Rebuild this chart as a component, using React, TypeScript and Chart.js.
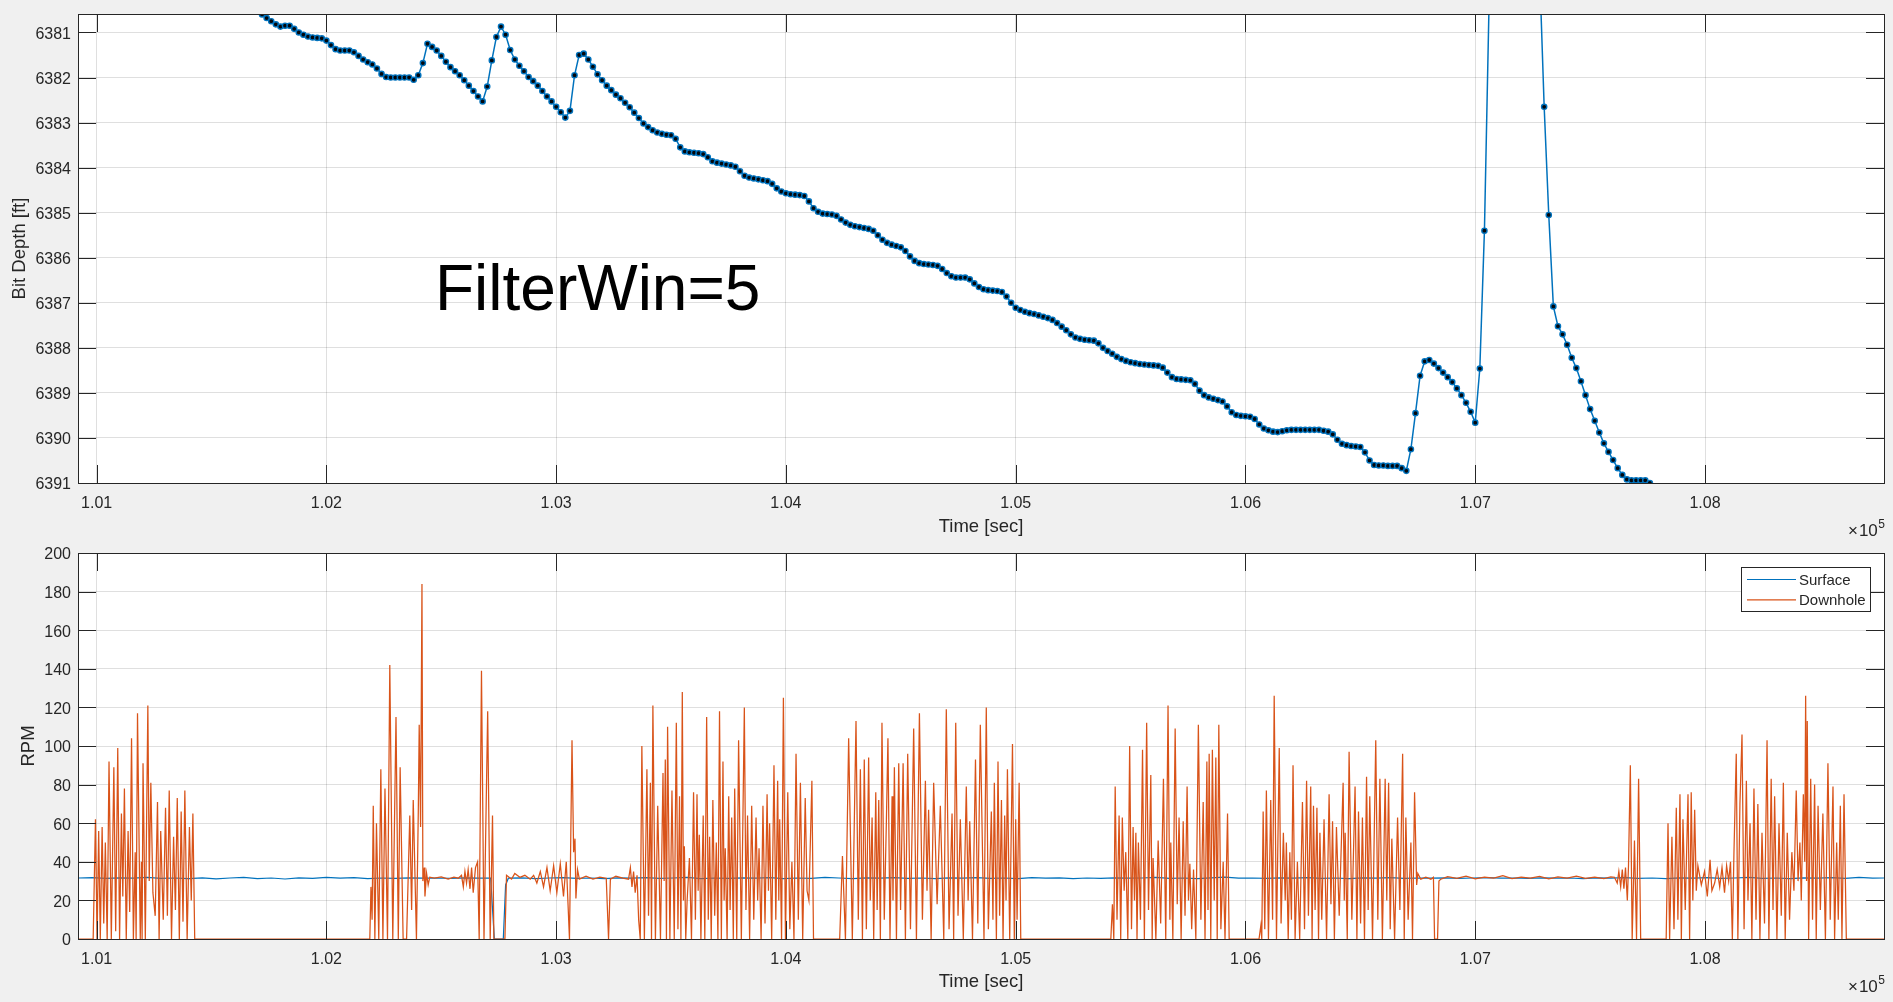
import { useEffect, useRef } from 'react';
import { Chart, registerables } from 'chart.js';

Chart.register(...registerables);

const FONT = "'Liberation Sans', Arial, Helvetica, sans-serif";
const AXIS_COLOR = '#262626';
const GRID_COLOR = 'rgba(38,38,38,0.15)';
const BLUE = '#0072BD';
const ORANGE = '#D95319';

// ---------- shared x axis ----------
const timeMin = 100919;
const timeMax = 108779;
const timeTicks = [101000, 102000, 103000, 104000, 105000, 106000, 107000, 108000];
const timeTickLabels = ['1.01', '1.02', '1.03', '1.04', '1.05', '1.06', '1.07', '1.08'];

// ---------- top plot: bit depth ----------
const depthMin = 6380.59;
const depthMax = 6391;
const depthTicks = [6381, 6382, 6383, 6384, 6385, 6386, 6387, 6388, 6389, 6390, 6391];
const depthStart = 101720; // sec, time of first sample
const depthStep = 20; // sec between samples
const bitDepth = [
  6380.60, 6380.68, 6380.75, 6380.82, 6380.87, 6380.85, 6380.85, 6380.92, 6381.00, 6381.05,
  6381.09, 6381.11, 6381.12, 6381.13, 6381.18, 6381.28, 6381.37, 6381.40, 6381.40, 6381.40,
  6381.44, 6381.52, 6381.60, 6381.66, 6381.71, 6381.80, 6381.92, 6381.99, 6382.00, 6382.00,
  6382.00, 6382.00, 6382.00, 6382.05, 6381.95, 6381.68, 6381.25, 6381.32, 6381.40, 6381.52,
  6381.65, 6381.77, 6381.86, 6381.95, 6382.06, 6382.18, 6382.30, 6382.42, 6382.53, 6382.20,
  6381.62, 6381.10, 6380.87, 6381.05, 6381.39, 6381.60, 6381.74, 6381.86, 6381.99, 6382.08,
  6382.18, 6382.30, 6382.42, 6382.53, 6382.65, 6382.77, 6382.89, 6382.74, 6381.95, 6381.50,
  6381.47, 6381.60, 6381.76, 6381.93, 6382.06, 6382.18, 6382.28, 6382.38, 6382.46, 6382.56,
  6382.66, 6382.78, 6382.90, 6383.02, 6383.10, 6383.17, 6383.22, 6383.25, 6383.27, 6383.28,
  6383.36, 6383.55, 6383.64, 6383.66, 6383.67, 6383.68, 6383.70, 6383.77, 6383.86, 6383.89,
  6383.91, 6383.93, 6383.95, 6383.98, 6384.08, 6384.18, 6384.22, 6384.24, 6384.26, 6384.28,
  6384.30, 6384.36, 6384.46, 6384.53, 6384.57, 6384.59, 6384.60, 6384.61, 6384.63, 6384.75,
  6384.90, 6384.98, 6385.02, 6385.03, 6385.04, 6385.07, 6385.15, 6385.22, 6385.27, 6385.30,
  6385.32, 6385.34, 6385.36, 6385.40, 6385.50, 6385.60, 6385.67, 6385.71, 6385.74, 6385.77,
  6385.85, 6385.97, 6386.07, 6386.12, 6386.14, 6386.15, 6386.16, 6386.18, 6386.25, 6386.34,
  6386.41, 6386.44, 6386.44, 6386.44, 6386.48, 6386.57, 6386.65, 6386.70, 6386.72, 6386.73,
  6386.74, 6386.76, 6386.86, 6387.00, 6387.11, 6387.16, 6387.20, 6387.23, 6387.25, 6387.28,
  6387.31, 6387.34, 6387.38, 6387.45, 6387.53, 6387.61, 6387.70, 6387.77, 6387.80, 6387.82,
  6387.83, 6387.84, 6387.90, 6388.00, 6388.07, 6388.13, 6388.20, 6388.25, 6388.29, 6388.32,
  6388.34, 6388.36, 6388.37, 6388.38, 6388.39, 6388.40, 6388.44, 6388.55, 6388.65, 6388.69,
  6388.70, 6388.71, 6388.72, 6388.80, 6388.95, 6389.05, 6389.10, 6389.13, 6389.16, 6389.19,
  6389.30, 6389.43, 6389.49, 6389.51, 6389.52, 6389.53, 6389.58, 6389.70, 6389.79, 6389.83,
  6389.86, 6389.87, 6389.85, 6389.83, 6389.82, 6389.82, 6389.82, 6389.82, 6389.82, 6389.82,
  6389.82, 6389.84, 6389.86, 6389.92, 6390.04, 6390.13, 6390.16, 6390.18, 6390.19, 6390.20,
  6390.32, 6390.50, 6390.60, 6390.61, 6390.61, 6390.62, 6390.62, 6390.62, 6390.67, 6390.73,
  6390.25, 6389.45, 6388.62, 6388.30, 6388.27, 6388.35, 6388.45, 6388.55, 6388.65, 6388.76,
  6388.90, 6389.05, 6389.22, 6389.42, 6389.66, 6388.46, 6385.40, 6380.40, 6376.00, 6372.00,
  6369.00, 6367.00, 6366.00, 6366.00, 6367.00, 6369.00, 6372.00, 6376.00, 6379.60, 6382.65,
  6385.05, 6387.08, 6387.52, 6387.70, 6387.93, 6388.22, 6388.45, 6388.74, 6389.05, 6389.36,
  6389.62, 6389.88, 6390.12, 6390.31, 6390.49, 6390.67, 6390.82, 6390.92, 6390.94, 6390.94,
  6390.94, 6390.94, 6391.00, 6391.08,
];

// ---------- bottom plot: RPM ----------
const rpmMin = 0;
const rpmMax = 200;
const rpmTicks = [0, 20, 40, 60, 80, 100, 120, 140, 160, 180, 200];

// [time sec, rpm]
const surfaceRpm = [
  [100920, 31.6], [100980, 31.8], [101040, 31.4], [101100, 31.7], [101160, 31.5], [101220, 31.9],
  [101280, 31.4], [101340, 31.6], [101400, 31.3], [101460, 31.7], [101520, 31.2], [101580, 31.6],
  [101640, 31.9], [101700, 31.3], [101760, 31.6], [101820, 31.1], [101880, 31.7], [101940, 31.4],
  [102000, 31.9], [102060, 31.5], [102120, 31.8], [102180, 31.3], [102240, 31.6], [102300, 31.4],
  [102360, 31.7], [102420, 31.5], [102480, 31.6], [102540, 31.4], [102600, 31.7], [102660, 31.5],
  [102715, 31.5], [102731, 0], [102770, 0], [102780, 28], [102792, 31.5], [102850, 31.7],
  [102910, 31.3], [102970, 31.6], [103030, 31.8], [103090, 31.4], [103150, 31.6], [103210, 31.3],
  [103270, 31.7], [103330, 31.5], [103390, 31.8], [103450, 31.4], [103510, 31.6], [103570, 31.9],
  [103630, 31.3], [103690, 31.6], [103750, 31.4], [103810, 31.7], [103870, 31.5], [103930, 31.8],
  [103990, 31.3], [104050, 31.6], [104110, 31.4], [104170, 31.9], [104230, 31.6], [104290, 31.3],
  [104350, 31.7], [104410, 31.5], [104470, 31.8], [104530, 31.4], [104590, 31.6], [104650, 31.3],
  [104710, 31.7], [104770, 31.5], [104830, 31.8], [104890, 31.4], [104950, 31.6], [105010, 31.3],
  [105070, 31.8], [105130, 31.5], [105190, 31.7], [105250, 31.3], [105310, 31.6], [105370, 31.4],
  [105430, 31.7], [105490, 31.5], [105550, 31.6], [105610, 31.9], [105670, 31.4], [105730, 31.6],
  [105790, 31.3], [105850, 31.7], [105910, 32.1], [105970, 31.5], [106030, 31.6], [106090, 31.4],
  [106150, 31.7], [106210, 31.5], [106270, 31.8], [106330, 31.4], [106390, 31.6], [106450, 31.3],
  [106510, 31.7], [106570, 31.5], [106630, 31.8], [106690, 31.4], [106750, 31.6], [106810, 31.5],
  [106870, 31.7], [106930, 31.4], [106990, 31.6], [107050, 31.8], [107110, 31.5], [107170, 31.6],
  [107230, 31.4], [107290, 31.7], [107350, 31.5], [107410, 31.6], [107470, 31.3], [107530, 31.7],
  [107590, 31.5], [107650, 31.8], [107710, 31.4], [107770, 31.6], [107830, 31.3], [107890, 31.7],
  [107950, 31.5], [108010, 31.8], [108070, 31.4], [108130, 31.6], [108190, 31.9], [108250, 31.4],
  [108310, 31.6], [108370, 31.3], [108430, 31.7], [108490, 31.5], [108550, 31.8], [108610, 31.4],
  [108670, 31.9], [108730, 31.5], [108780, 31.6],
];

const downholeRpm = [
  [100919, 0], [100985, 0],
  [100995, 62], [101002, 0], [101009, 56], [101016, 0], [101024, 58], [101031, 8], [101038, 50],
  [101046, 0], [101054, 92], [101064, 0], [101075, 89], [101083, 4], [101092, 99], [101100, 0],
  [101108, 65], [101114, 22], [101121, 78], [101129, 0], [101137, 56], [101144, 14], [101152, 104],
  [101160, 0], [101168, 45], [101172, 0], [101178, 117], [101190, 0], [101195, 40], [101198, 0],
  [101202, 91], [101212, 0], [101223, 121], [101229, 30], [101236, 81], [101245, 24], [101255, 12],
  [101265, 71], [101272, 0], [101279, 56], [101290, 10], [101300, 68], [101308, 12], [101316, 77],
  [101326, 0], [101335, 53], [101343, 15], [101351, 73], [101360, 0], [101368, 66], [101376, 9],
  [101384, 77], [101394, 0], [101404, 58], [101412, 20], [101419, 65], [101427, 0],
  [102189, 0], [102194, 27], [102199, 10], [102204, 69], [102211, 0], [102218, 60], [102228, 0],
  [102237, 88], [102246, 0], [102255, 78], [102266, 0], [102276, 142], [102289, 0], [102303, 115],
  [102313, 0], [102321, 89], [102334, 0], [102349, 0], [102363, 64], [102371, 15], [102378, 72],
  [102392, 0], [102400, 66], [102404, 111], [102410, 58], [102416, 184], [102420, 30], [102426, 37],
  [102429, 22], [102436, 34], [102443, 28], [102450, 32], [102470, 31.5], [102500, 32.2],
  [102530, 31.0], [102555, 32.0], [102574, 31.5], [102588, 33], [102596, 27], [102603, 35],
  [102610, 29], [102617, 36], [102625, 26], [102632, 37], [102639, 24], [102649, 37], [102658, 40],
  [102665, 0], [102675, 139], [102686, 0], [102702, 118], [102713, 0], [102723, 64], [102729, 0],
  [102777, 0], [102784, 33], [102806, 31], [102820, 34], [102842, 32], [102864, 33], [102887, 31],
  [102902, 33], [102916, 29], [102931, 35], [102945, 27], [102960, 37], [102974, 25], [102989, 38],
  [103003, 24], [103018, 39], [103032, 22], [103044, 40], [103058, 0], [103069, 103], [103076, 45],
  [103082, 52], [103086, 21], [103093, 36], [103101, 31], [103130, 32.5], [103160, 31], [103190, 32],
  [103218, 31.5], [103228, 0], [103236, 31], [103260, 32.5], [103290, 31.5], [103315, 31],
  [103323, 37], [103330, 27], [103337, 35], [103344, 24], [103352, 33], [103359, 10],
  [103366, 0], [103373, 100], [103384, 0], [103395, 88], [103402, 12], [103410, 81], [103415, 0],
  [103421, 121], [103432, 0], [103442, 69], [103454, 0], [103465, 86], [103470, 30], [103475, 93],
  [103480, 0], [103485, 110], [103495, 0], [103504, 77], [103514, 0], [103523, 112], [103530, 5],
  [103537, 74], [103543, 0], [103549, 128], [103554, 20], [103558, 48], [103564, 0], [103570, 20],
  [103580, 42], [103589, 0], [103598, 76], [103606, 10], [103613, 75], [103618, 25], [103623, 54],
  [103630, 0], [103640, 64], [103647, 0], [103655, 115], [103662, 10], [103668, 53], [103675, 0],
  [103682, 72], [103690, 12], [103697, 50], [103704, 0], [103711, 118], [103719, 0], [103726, 92],
  [103731, 20], [103736, 47], [103744, 0], [103751, 74], [103757, 15], [103764, 63], [103771, 0],
  [103777, 78], [103786, 0], [103794, 103], [103806, 0], [103819, 120], [103826, 15], [103833, 64],
  [103842, 0], [103851, 69], [103860, 10], [103870, 63], [103877, 20], [103883, 47], [103892, 0],
  [103900, 69], [103909, 8], [103918, 75], [103924, 25], [103929, 60], [103938, 0], [103948, 90],
  [103956, 10], [103964, 82], [103969, 20], [103973, 62], [103981, 0], [103989, 125], [103998, 0],
  [104008, 76], [104017, 5], [104026, 40], [104035, 0], [104044, 96], [104054, 10], [104063, 81],
  [104073, 0], [104084, 73], [104092, 25], [104100, 20], [104113, 82], [104120, 0], [104234, 0],
  [104246, 43], [104259, 0], [104273, 104], [104289, 0], [104305, 113], [104315, 10], [104324, 88],
  [104333, 0], [104341, 93], [104350, 5], [104360, 94], [104367, 20], [104375, 63], [104382, 0],
  [104391, 76], [104397, 15], [104404, 72], [104411, 0], [104418, 112], [104428, 10], [104437, 60],
  [104444, 104], [104453, 0], [104462, 74], [104466, 20], [104472, 89], [104481, 0], [104491, 91],
  [104499, 15], [104510, 91], [104520, 0], [104530, 96], [104542, 5], [104556, 109], [104568, 0],
  [104581, 117], [104594, 10], [104607, 82], [104614, 25], [104621, 67], [104632, 0], [104643, 81],
  [104658, 18], [104672, 69], [104687, 0], [104698, 119], [104710, 5], [104723, 65], [104730, 0],
  [104739, 112], [104749, 12], [104759, 62], [104772, 0], [104785, 79], [104793, 20], [104800, 61],
  [104812, 0], [104825, 93], [104835, 8], [104846, 111], [104862, 0], [104872, 120], [104881, 5],
  [104894, 66], [104901, 10], [104907, 81], [104916, 0], [104923, 92], [104930, 12], [104938, 72],
  [104945, 0], [104952, 64], [104958, 20], [104964, 88], [104974, 0], [104986, 101], [104994, 0],
  [105000, 62], [105006, 10], [105015, 81], [105022, 0],
  [105414, 0], [105421, 18], [105427, 0], [105433, 79], [105441, 10], [105450, 64], [105457, 0],
  [105464, 63], [105472, 25], [105479, 45], [105488, 0], [105496, 100], [105504, 5], [105511, 58],
  [105517, 20], [105523, 55], [105528, 0], [105534, 50], [105543, 10], [105552, 98], [105560, 0],
  [105570, 112], [105578, 15], [105588, 85], [105594, 0], [105598, 42], [105610, 0], [105620, 51],
  [105631, 8], [105643, 83], [105653, 0], [105663, 121], [105671, 10], [105675, 50], [105684, 0],
  [105694, 109], [105703, 18], [105711, 63], [105720, 0], [105729, 61], [105737, 12], [105746, 79],
  [105752, 20], [105758, 39], [105766, 5], [105774, 36], [105784, 0], [105795, 111], [105806, 10],
  [105816, 71], [105824, 0], [105832, 92], [105837, 15], [105842, 96], [105849, 0], [105856, 98],
  [105864, 20], [105871, 94], [105877, 0], [105884, 111], [105893, 5], [105903, 40], [105911, 0],
  [105922, 65], [105929, 0],
  [106059, 0], [106067, 7], [106071, 0], [106077, 66], [106084, 5], [106091, 77], [106100, 0],
  [106110, 72], [106118, 10], [106125, 126], [106135, 0], [106147, 99], [106155, 8], [106165, 55],
  [106173, 20], [106178, 50], [106186, 0], [106193, 45], [106200, 10], [106207, 90], [106216, 0],
  [106226, 40], [106236, 0], [106248, 71], [106257, 5], [106266, 82], [106274, 12], [106284, 79],
  [106290, 0], [106296, 69], [106303, 15], [106311, 68], [106318, 0], [106324, 55], [106332, 10],
  [106342, 62], [106353, 0], [106364, 75], [106372, 18], [106379, 61], [106387, 0], [106396, 58],
  [106408, 12], [106425, 81], [106430, 20], [106434, 55], [106443, 0], [106451, 97], [106463, 10],
  [106477, 79], [106485, 0], [106492, 66], [106501, 8], [106509, 63], [106518, 0], [106527, 84],
  [106534, 15], [106541, 74], [106553, 0], [106567, 103], [106576, 10], [106585, 83], [106596, 0],
  [106608, 83], [106615, 20], [106623, 81], [106630, 5], [106637, 52], [106649, 0], [106662, 63],
  [106672, 15], [106684, 96], [106691, 0], [106698, 63], [106708, 10], [106720, 50], [106727, 0],
  [106736, 76], [106745, 28], [106750, 34], [106763, 31], [106785, 32], [106807, 31], [106818, 32],
  [106823, 0], [106836, 0], [106842, 30], [106850, 31], [106880, 32.3], [106920, 31.4],
  [106960, 32.6], [107000, 31.2], [107040, 32.1], [107080, 31.5], [107120, 32.8], [107160, 31.3],
  [107200, 32], [107240, 31.6], [107280, 32.4], [107320, 31.2], [107360, 32.2], [107400, 31.5],
  [107440, 32.6], [107480, 31.4], [107520, 32], [107560, 31.3], [107590, 32.2], [107606, 32],
  [107618, 29], [107625, 35], [107633, 27], [107640, 36], [107647, 26], [107654, 37], [107662, 20],
  [107667, 38], [107675, 90], [107683, 0], [107693, 51], [107702, 0], [107711, 83], [107720, 0],
  [107831, 0], [107839, 60], [107846, 0], [107856, 53], [107865, 5], [107875, 68], [107882, 10],
  [107891, 75], [107897, 0], [107904, 62], [107914, 15], [107926, 75], [107933, 0], [107940, 76],
  [107947, 20], [107955, 67], [107962, 25], [107969, 38], [107984, 28], [107998, 35], [108010, 22],
  [108022, 41], [108030, 25], [108042, 29], [108053, 36], [108064, 27], [108074, 37], [108085, 24],
  [108094, 38], [108103, 30], [108111, 40], [108119, 0],
  [108126, 45], [108136, 96], [108143, 0], [108152, 70], [108161, 106], [108170, 5], [108180, 82],
  [108187, 20], [108196, 60], [108204, 0], [108213, 78], [108222, 10], [108230, 70], [108239, 0],
  [108248, 55], [108259, 8], [108270, 103], [108278, 0], [108288, 83], [108296, 15], [108303, 74],
  [108313, 0], [108322, 60], [108332, 12], [108341, 81], [108349, 0], [108358, 55], [108368, 10],
  [108378, 45], [108387, 25], [108397, 77], [108405, 30], [108413, 50], [108419, 20], [108428, 75],
  [108434, 40], [108438, 126], [108442, 30], [108445, 113], [108451, 0], [108460, 83], [108468, 10],
  [108477, 80], [108484, 0], [108492, 69], [108502, 15], [108513, 65], [108524, 0], [108535, 91],
  [108545, 10], [108557, 79], [108564, 0], [108573, 50], [108580, 10], [108589, 69], [108596, 0],
  [108605, 75], [108615, 0], [108779, 0],
];

// ---------- MATLAB-style axes decorations ----------
const matlabPlugin = {
  id: 'matlab',
  beforeDraw(chart: any) {
    const { ctx, chartArea: a } = chart;
    ctx.save();
    ctx.fillStyle = '#ffffff';
    ctx.fillRect(a.left, a.top, a.right - a.left, a.bottom - a.top);
    ctx.restore();
  },
  afterDraw(chart: any, _args: any, opts: any) {
    const { ctx, chartArea: a, scales } = chart;
    const xs = scales.x;
    const ys = scales.y;
    const tl = 18;
    ctx.save();
    ctx.strokeStyle = AXIS_COLOR;
    ctx.lineWidth = 1;
    ctx.beginPath();
    xs.ticks.forEach((t: any) => {
      const p = Math.round(xs.getPixelForValue(t.value)) + 0.5;
      ctx.moveTo(p, a.bottom);
      ctx.lineTo(p, a.bottom - tl);
      ctx.moveTo(p, a.top);
      ctx.lineTo(p, a.top + tl);
    });
    ys.ticks.forEach((t: any) => {
      const p = Math.round(ys.getPixelForValue(t.value)) + 0.5;
      ctx.moveTo(a.left, p);
      ctx.lineTo(a.left + tl, p);
      ctx.moveTo(a.right, p);
      ctx.lineTo(a.right - tl, p);
    });
    ctx.stroke();
    ctx.strokeRect(Math.round(a.left) + 0.5, Math.round(a.top) + 0.5,
      Math.round(a.right - a.left), Math.round(a.bottom - a.top));

    // x10^5 exponent label
    if (opts.expo) {
      const e = opts.expo;
      ctx.fillStyle = AXIS_COLOR;
      ctx.textBaseline = 'alphabetic';
      ctx.textAlign = 'right';
      ctx.font = `12px ${FONT}`;
      ctx.fillText('5', e.x, e.y - 8);
      const w5 = ctx.measureText('5').width;
      ctx.font = `17px ${FONT}`;
      ctx.fillText('10', e.x - w5 - 0.5, e.y);
      const w10 = ctx.measureText('10').width;
      ctx.fillText('\u00d7', e.x - w5 - w10 - 1.5, e.y);
    }

    // annotation text
    if (opts.note) {
      const n = opts.note;
      ctx.fillStyle = '#000000';
      ctx.textAlign = 'left';
      ctx.textBaseline = 'alphabetic';
      ctx.font = `${n.size}px ${FONT}`;
      ctx.fillText(n.text, n.x, n.y);
    }

    // legend box
    if (opts.legend) {
      const L = opts.legend;
      ctx.fillStyle = '#ffffff';
      ctx.fillRect(L.x, L.y, L.w, L.h);
      ctx.strokeStyle = AXIS_COLOR;
      ctx.lineWidth = 1;
      ctx.strokeRect(L.x + 0.5, L.y + 0.5, L.w, L.h);
      chart.data.datasets.forEach((ds: any, i: number) => {
        const yy = L.y + 12.5 + i * 20.3;
        ctx.strokeStyle = ds.borderColor;
        ctx.lineWidth = 1.2;
        ctx.beginPath();
        ctx.moveTo(L.x + 6, yy);
        ctx.lineTo(L.x + 55, yy);
        ctx.stroke();
        ctx.fillStyle = AXIS_COLOR;
        ctx.font = `15px ${FONT}`;
        ctx.textAlign = 'left';
        ctx.textBaseline = 'middle';
        ctx.fillText(ds.label, L.x + 58, yy + 1);
      });
    }
    ctx.restore();
  },
};

function timeScale(titlePadBottom: number, axisHeight: number) {
  return {
    type: 'linear',
    min: timeMin,
    max: timeMax,
    afterBuildTicks: (s: any) => {
      s.ticks = timeTicks.map((v) => ({ value: v }));
    },
    afterFit: (s: any) => {
      s.height = axisHeight;
      s.paddingLeft = 0;
      s.paddingRight = 0;
    },
    ticks: {
      autoSkip: false,
      maxRotation: 0,
      padding: 11,
      color: AXIS_COLOR,
      font: { size: 16, family: FONT },
      callback: (v: number) => {
        const i = timeTicks.indexOf(Math.round(v));
        return i >= 0 ? timeTickLabels[i] : '';
      },
    },
    grid: { color: GRID_COLOR, lineWidth: 1, drawTicks: false },
    border: { display: false },
    title: {
      display: true,
      text: 'Time [sec]',
      color: AXIS_COLOR,
      font: { size: 18.5, family: FONT },
      padding: { top: 0, bottom: titlePadBottom },
    },
  };
}

function valueScale(opts: any) {
  return {
    type: 'linear',
    min: opts.min,
    max: opts.max,
    reverse: !!opts.reverse,
    afterBuildTicks: (s: any) => {
      s.ticks = opts.ticks.map((v: number) => ({ value: v }));
    },
    afterFit: (s: any) => {
      s.width = 78;
      s.paddingTop = 0;
      s.paddingBottom = 0;
    },
    ticks: {
      autoSkip: false,
      padding: 7,
      labelOffset: 2,
      color: AXIS_COLOR,
      font: { size: 16, family: FONT },
      callback: (v: number) => String(v),
    },
    grid: { color: GRID_COLOR, lineWidth: 1, drawTicks: false },
    border: { display: false },
    title: {
      display: true,
      text: opts.title,
      color: AXIS_COLOR,
      font: { size: 18.5, family: FONT },
      padding: { top: opts.titlePad, bottom: 0 },
    },
  };
}

export default function App() {
  const topRef = useRef<HTMLCanvasElement>(null);
  const botRef = useRef<HTMLCanvasElement>(null);

  useEffect(() => {
    document.body.style.margin = '0';
    Chart.defaults.font.family = FONT;

    const depthPoints = bitDepth.map((d, i) => ({ x: depthStart + i * depthStep, y: d }));
    const surfacePoints = surfaceRpm.map(([t, v]) => ({ x: t, y: v }));
    const downholePoints = downholeRpm.map(([t, v]) => ({ x: t, y: v }));

    const top = new Chart(topRef.current as HTMLCanvasElement, {
      type: 'line',
      data: {
        datasets: [
          {
            label: 'Bit Depth',
            data: depthPoints,
            borderColor: BLUE,
            borderWidth: 1.5,
            pointRadius: 2.6,
            pointStyle: 'circle',
            pointBackgroundColor: '#04070c',
            pointBorderColor: BLUE,
            pointBorderWidth: 1.4,
            tension: 0,
          },
        ],
      },
      options: {
        animation: false,
        responsive: false,
        events: [],
        layout: { padding: { left: 0, top: 14, right: 9, bottom: 0 } },
        scales: {
          x: timeScale(6.9, 62),
          y: valueScale({ min: depthMin, max: depthMax, reverse: true, ticks: depthTicks, title: 'Bit Depth [ft]', titlePad: 8.7 }),
        },
        plugins: {
          legend: { display: false },
          tooltip: { enabled: false },
          matlab: {
            expo: { x: 1885, y: 536 },
            note: { text: 'FilterWin=5', x: 435, y: 310, size: 64 },
          },
        },
      } as any,
      plugins: [matlabPlugin],
    } as any);

    const bottom = new Chart(botRef.current as HTMLCanvasElement, {
      type: 'line',
      data: {
        datasets: [
          {
            label: 'Surface',
            data: surfacePoints,
            borderColor: BLUE,
            borderWidth: 1.2,
            pointRadius: 0,
            tension: 0,
            order: 2,
          },
          {
            label: 'Downhole',
            data: downholePoints,
            borderColor: ORANGE,
            borderWidth: 1.25,
            pointRadius: 0,
            tension: 0,
            order: 1,
          },
        ],
      },
      options: {
        animation: false,
        responsive: false,
        events: [],
        layout: { padding: { left: 0, top: 8, right: 9, bottom: 0 } },
        scales: {
          x: timeScale(8.9, 63),
          y: valueScale({ min: rpmMin, max: rpmMax, ticks: rpmTicks, title: 'RPM', titlePad: 18 }),
        },
        plugins: {
          legend: { display: false },
          tooltip: { enabled: false },
          matlab: {
            expo: { x: 1885, y: 447 },
            legend: { x: 1741, y: 22, w: 129, h: 44 },
          },
        },
      } as any,
      plugins: [matlabPlugin],
    } as any);

    return () => {
      top.destroy();
      bottom.destroy();
    };
  }, []);

  return (
    <div style={{ position: 'absolute', left: 0, top: 0, width: 1893, height: 1002, background: '#f0f0f0', overflow: 'hidden' }}>
      <canvas ref={topRef} width={1893} height={545} style={{ position: 'absolute', left: 0, top: 0 }} />
      <canvas ref={botRef} width={1893} height={457} style={{ position: 'absolute', left: 0, top: 545 }} />
    </div>
  );
}
